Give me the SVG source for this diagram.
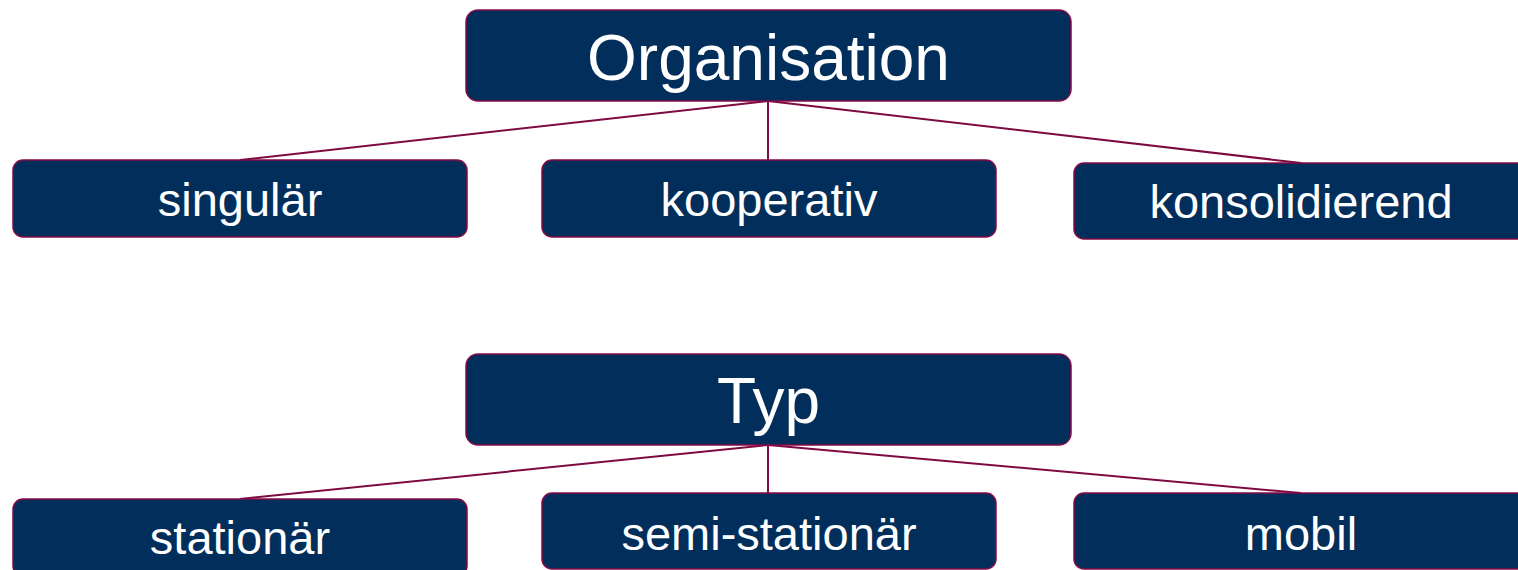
<svg xmlns="http://www.w3.org/2000/svg" width="1518" height="570" viewBox="0 0 1518 570">
<style>
.box{fill:#022E5C;stroke:#860A45;stroke-width:1.5}
.t{font-family:"Liberation Sans",Arial,sans-serif;fill:#ffffff;text-anchor:middle}
.big{font-size:64px}
.sm{font-size:47px}
.c{stroke:#7E0A42;stroke-width:2;fill:none}
</style>
<rect width="1518" height="570" fill="#ffffff"/>
<g id="connectors">
<line class="c" x1="768" y1="101" x2="240" y2="160"/>
<line class="c" x1="768" y1="101" x2="768" y2="160"/>
<line class="c" x1="768" y1="101" x2="1301" y2="163"/>
<line class="c" x1="768" y1="445" x2="240" y2="499"/>
<line class="c" x1="768" y1="445" x2="768" y2="493"/>
<line class="c" x1="768" y1="445" x2="1301" y2="493"/>
</g>
<g id="organisation">
<rect class="box" x="466" y="10" width="605" height="91" rx="12"/>
<text class="t big" x="768.5" y="80">Organisation</text>
</g>
<g id="singular">
<rect class="box" x="13" y="160" width="454" height="77" rx="10"/>
<text class="t sm" x="240" y="216">singulär</text>
</g>
<g id="kooperativ">
<rect class="box" x="542" y="160" width="454" height="77" rx="10"/>
<text class="t sm" x="769" y="216">kooperativ</text>
</g>
<g id="konsolidierend">
<rect class="box" x="1074" y="163" width="454" height="76" rx="10"/>
<text class="t sm" x="1301" y="218">konsolidierend</text>
</g>
<g id="typ">
<rect class="box" x="466" y="354" width="605" height="91" rx="12"/>
<text class="t big" x="768.5" y="423">Typ</text>
</g>
<g id="stationar">
<rect class="box" x="13" y="499" width="454" height="77" rx="10"/>
<text class="t sm" x="240" y="554">stationär</text>
</g>
<g id="semi-stationar">
<rect class="box" x="542" y="493" width="454" height="76" rx="10"/>
<text class="t sm" x="769" y="550">semi-stationär</text>
</g>
<g id="mobil">
<rect class="box" x="1074" y="493" width="454" height="76" rx="10"/>
<text class="t sm" x="1301" y="550">mobil</text>
</g>
</svg>
